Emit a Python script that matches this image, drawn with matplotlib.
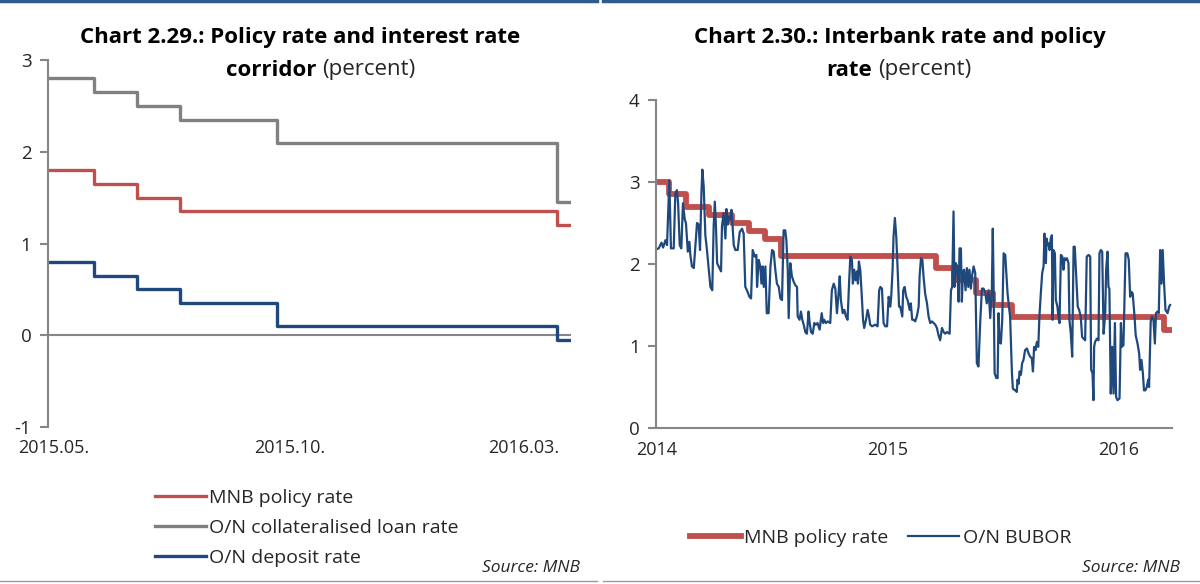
import matplotlib
matplotlib.use("Agg")
import matplotlib.pyplot as plt
from matplotlib.lines import Line2D
import numpy as np

plt.rcParams['font.family'] = ['Open Sans', 'DejaVu Sans']
plt.rcParams['axes.unicode_minus'] = False

RED = '#c0504d'
GREY = '#808080'
BLUE = '#1f497d'
AXIS = '#868686'
TXT = '#262626'

# Chart 2.29 - policy rate and the interest rate corridor
corr_dates = np.array(['2015-04-27', '2015-05-27', '2015-06-24', '2015-07-22',
                       '2015-09-23', '2016-03-23', '2016-04-01'], dtype='datetime64[D]')
policy_rate = [1.80, 1.65, 1.50, 1.35, 1.35, 1.20, 1.20]
loan_rate = [2.80, 2.65, 2.50, 2.35, 2.10, 1.45, 1.45]
deposit_rate = [0.80, 0.65, 0.50, 0.35, 0.10, -0.05, -0.05]
corr_ticks = np.array(['2015-05-01', '2015-10-01', '2016-03-01'], dtype='datetime64[D]')
corr_ticklabels = ['2015.05.', '2015.10.', '2016.03.']

# Chart 2.30 - policy rate and O/N BUBOR (time in decimal years)
mnb_t = [2014.000, 2014.056, 2014.130, 2014.227, 2014.328, 2014.400, 2014.472,
         2014.541, 2015.212, 2015.287, 2015.385, 2015.460, 2015.540, 2016.199, 2016.232]
mnb_rate = [3.00, 2.85, 2.70, 2.60, 2.50, 2.40, 2.30,
            2.10, 1.95, 1.80, 1.65, 1.50, 1.35, 1.20, 1.20]

bubor_t = [
    2014.000, 2014.010, 2014.022, 2014.029, 2014.039, 2014.046, 2014.056, 2014.063,
    2014.075, 2014.082, 2014.089, 2014.094, 2014.101, 2014.108, 2014.115, 2014.123,
    2014.128, 2014.136, 2014.143, 2014.147, 2014.154, 2014.162, 2014.169, 2014.176,
    2014.183, 2014.189, 2014.195, 2014.199, 2014.205, 2014.212, 2014.219, 2014.227,
    2014.234, 2014.242, 2014.248, 2014.253, 2014.258, 2014.263, 2014.270, 2014.280,
    2014.284, 2014.291, 2014.299, 2014.303, 2014.309, 2014.315, 2014.320, 2014.325,
    2014.330, 2014.335, 2014.342, 2014.352, 2014.361, 2014.371, 2014.378, 2014.385,
    2014.392, 2014.403, 2014.410, 2014.417, 2014.426, 2014.433, 2014.436, 2014.443,
    2014.450, 2014.455, 2014.460, 2014.465, 2014.472, 2014.478, 2014.486, 2014.494,
    2014.501, 2014.508, 2014.515, 2014.522, 2014.530, 2014.537, 2014.544, 2014.551,
    2014.558, 2014.563, 2014.569, 2014.573, 2014.580, 2014.587, 2014.595, 2014.602,
    2014.609, 2014.612, 2014.620, 2014.626, 2014.632, 2014.638, 2014.645, 2014.652,
    2014.659, 2014.664, 2014.670, 2014.677, 2014.684, 2014.691, 2014.698, 2014.707,
    2014.716, 2014.722, 2014.727, 2014.734, 2014.742, 2014.753, 2014.760, 2014.768,
    2014.775, 2014.782, 2014.789, 2014.794, 2014.799, 2014.807, 2014.814, 2014.821,
    2014.828, 2014.835, 2014.840, 2014.847, 2014.851, 2014.857, 2014.863, 2014.869,
    2014.873, 2014.877, 2014.883, 2014.889, 2014.895, 2014.900, 2014.908, 2014.915,
    2014.921, 2014.926, 2014.934, 2014.948, 2014.958, 2014.965, 2014.970, 2014.977,
    2014.984, 2014.991, 2014.999, 2015.006, 2015.013, 2015.017, 2015.023, 2015.027,
    2015.033, 2015.039, 2015.045, 2015.051, 2015.056, 2015.065, 2015.069, 2015.075,
    2015.082, 2015.088, 2015.097, 2015.102, 2015.108, 2015.114, 2015.121, 2015.128,
    2015.136, 2015.140, 2015.146, 2015.152, 2015.157, 2015.164, 2015.172, 2015.179,
    2015.186, 2015.193, 2015.201, 2015.208, 2015.215, 2015.222, 2015.229, 2015.237,
    2015.244, 2015.251, 2015.258, 2015.270, 2015.276, 2015.281, 2015.287, 2015.291,
    2015.297, 2015.303, 2015.309, 2015.313, 2015.319, 2015.323, 2015.328, 2015.333,
    2015.339, 2015.345, 2015.351, 2015.356, 2015.362, 2015.368, 2015.374, 2015.381,
    2015.388, 2015.395, 2015.403, 2015.410, 2015.417, 2015.424, 2015.431, 2015.439,
    2015.446, 2015.453, 2015.457, 2015.460, 2015.465, 2015.472, 2015.478, 2015.482,
    2015.486, 2015.492, 2015.498, 2015.504, 2015.511, 2015.515, 2015.521, 2015.527,
    2015.532, 2015.540, 2015.544, 2015.554, 2015.561, 2015.564, 2015.569, 2015.573,
    2015.579, 2015.584, 2015.590, 2015.597, 2015.605, 2015.612, 2015.619, 2015.626,
    2015.631, 2015.636, 2015.642, 2015.648, 2015.654, 2015.659, 2015.665, 2015.671,
    2015.677, 2015.681, 2015.687, 2015.690, 2015.694, 2015.698, 2015.703, 2015.708,
    2015.713, 2015.716, 2015.720, 2015.726, 2015.730, 2015.737, 2015.742, 2015.746,
    2015.752, 2015.758, 2015.763, 2015.768, 2015.773, 2015.778, 2015.785, 2015.789,
    2015.795, 2015.801, 2015.807, 2015.812, 2015.818, 2015.825, 2015.831, 2015.838,
    2015.844, 2015.850, 2015.857, 2015.864, 2015.872, 2015.879, 2015.883, 2015.889,
    2015.893, 2015.896, 2015.900, 2015.908, 2015.915, 2015.919, 2015.925, 2015.931,
    2015.937, 2015.944, 2015.948, 2015.954, 2015.958, 2015.962, 2015.968, 2015.974,
    2015.980, 2015.986, 2015.991, 2015.997, 2016.006, 2016.012, 2016.016, 2016.023,
    2016.032, 2016.040, 2016.046, 2016.052, 2016.058, 2016.063, 2016.071, 2016.076,
    2016.084, 2016.091, 2016.095, 2016.101, 2016.107, 2016.112, 2016.118, 2016.124,
    2016.130, 2016.134, 2016.141, 2016.147, 2016.153, 2016.159, 2016.164, 2016.170,
    2016.176, 2016.182, 2016.188, 2016.193, 2016.199, 2016.205, 2016.214, 2016.221,
    2016.225,
]
bubor_rate = [
    2.18, 2.19, 2.26, 2.20, 2.29, 2.23, 3.02, 2.19,
    2.19, 2.86, 2.90, 2.74, 2.23, 2.19, 2.74, 2.54,
    2.50, 2.15, 2.27, 2.11, 1.97, 1.95, 2.23, 2.50,
    2.48, 2.17, 2.86, 3.15, 2.94, 2.35, 2.17, 1.93,
    1.72, 1.68, 2.46, 2.76, 2.46, 2.01, 1.97, 1.91,
    2.46, 2.62, 2.31, 2.67, 2.48, 2.58, 2.54, 2.66,
    2.46, 2.23, 2.17, 2.17, 2.39, 2.43, 2.37, 1.72,
    1.68, 1.60, 1.58, 2.17, 2.09, 2.11, 1.72, 2.05,
    1.97, 1.76, 1.97, 1.72, 1.97, 1.40, 1.40, 1.97,
    2.17, 2.15, 1.93, 1.76, 1.72, 1.58, 1.56, 2.41,
    2.41, 2.29, 1.93, 1.34, 2.01, 1.85, 1.78, 1.74,
    1.72, 1.36, 1.32, 1.42, 1.32, 1.26, 1.17, 1.15,
    1.42, 1.28, 1.17, 1.15, 1.28, 1.26, 1.28, 1.20,
    1.40, 1.28, 1.32, 1.28, 1.30, 1.28, 1.68, 1.76,
    1.70, 1.40, 1.64, 1.85, 1.56, 1.40, 1.44, 1.36,
    1.32, 1.80, 2.09, 2.05, 1.76, 1.93, 1.80, 1.91,
    1.76, 2.03, 1.93, 1.64, 1.32, 1.22, 1.32, 1.44,
    1.36, 1.26, 1.24, 1.26, 1.24, 1.68, 1.72, 1.70,
    1.28, 1.24, 1.24, 1.60, 1.48, 1.60, 1.93, 2.33,
    2.56, 2.33, 1.93, 1.48, 1.48, 1.36, 1.68, 1.72,
    1.60, 1.56, 1.44, 1.52, 1.32, 1.32, 1.30, 1.36,
    1.48, 1.85, 2.07, 2.05, 1.85, 1.64, 1.52, 1.36,
    1.28, 1.30, 1.28, 1.26, 1.22, 1.13, 1.07, 1.22,
    1.17, 1.15, 1.17, 1.15, 1.68, 1.72, 2.64, 1.72,
    2.01, 1.97, 1.54, 2.19, 2.19, 1.54, 1.91, 1.93,
    1.68, 1.95, 1.72, 1.93, 1.70, 1.87, 1.97, 1.89,
    0.79, 0.75, 1.32, 1.70, 1.70, 1.66, 1.52, 1.68,
    1.34, 1.70, 2.43, 1.85, 0.67, 0.61, 0.61, 1.40,
    1.05, 1.03, 1.32, 2.13, 2.11, 1.93, 1.64, 1.48,
    1.36, 0.67, 0.48, 0.46, 0.44, 0.59, 0.54, 0.69,
    0.65, 0.79, 0.83, 0.95, 0.97, 0.91, 0.87, 0.85,
    0.69, 0.99, 0.95, 1.05, 0.99, 1.36, 1.64, 1.89,
    1.97, 2.37, 2.01, 2.31, 2.23, 2.25, 2.17, 2.31,
    2.35, 1.32, 2.17, 2.13, 1.56, 1.48, 1.34, 1.28,
    2.11, 2.09, 1.93, 2.07, 2.05, 2.07, 2.01, 1.32,
    1.15, 0.87, 2.21, 2.21, 1.87, 1.48, 1.44, 1.36,
    1.11, 1.09, 1.07, 2.09, 2.11, 2.09, 0.71, 0.67,
    0.34, 0.99, 1.05, 1.09, 1.07, 2.13, 2.17, 2.15,
    1.15, 1.40, 1.93, 2.15, 1.72, 1.70, 0.42, 0.99,
    0.42, 1.28, 0.38, 0.34, 0.36, 1.28, 0.99, 1.01,
    2.13, 2.13, 2.05, 1.60, 1.66, 1.64, 1.36, 1.13,
    1.03, 0.91, 0.71, 0.83, 0.67, 0.46, 0.46, 0.50,
    0.59, 0.50, 1.30, 1.36, 1.32, 1.03, 1.40, 1.42,
    1.40, 2.17, 1.76, 2.17, 1.76, 1.44, 1.40, 1.48,
    1.50,
]

fig = plt.figure(figsize=(12, 5.84), dpi=100)


def style_axis(ax):
    for side in ('top', 'right', 'bottom'):
        ax.spines[side].set_visible(False)
    ax.spines['left'].set_color(AXIS)
    ax.spines['left'].set_linewidth(1.5)
    ax.tick_params(axis='y', direction='out', length=6, width=1.5, color=AXIS,
                   labelsize=13.5, labelcolor=TXT, pad=6)
    ax.tick_params(axis='x', length=0, labelsize=13, labelcolor=TXT, pad=9)


# ---- left panel ----
ax1 = fig.add_axes([0.040, 0.269, 0.436, 0.628])
ax1.step(corr_dates, policy_rate, where='post', color=RED, lw=2.4, label='MNB policy rate')
ax1.step(corr_dates, loan_rate, where='post', color=GREY, lw=2.4,
         label='O/N collateralised loan rate')
ax1.step(corr_dates, deposit_rate, where='post', color=BLUE, lw=2.4, label='O/N deposit rate')
ax1.axhline(0, color=AXIS, lw=1.5, zorder=0)
ax1.set_ylim(-1, 3)
ax1.set_yticks([-1, 0, 1, 2, 3])
ax1.set_xlim(corr_dates[0], corr_dates[-1])
ax1.set_xticks(corr_ticks)
ax1.set_xticklabels(corr_ticklabels)
style_axis(ax1)
ax1.legend(loc='upper left', bbox_to_anchor=(155 / 1200, 1 - 489 / 584),
           bbox_transform=fig.transFigure, frameon=False, fontsize=14,
           handlelength=2.6, handletextpad=0.2, labelspacing=0.62,
           borderpad=0, borderaxespad=0, labelcolor=TXT)

# ---- right panel ----
ax2 = fig.add_axes([0.547, 0.267, 0.430, 0.562])
ax2.step(mnb_t, mnb_rate, where='post', color=RED, lw=4.2, label='MNB policy rate')
ax2.plot(bubor_t, bubor_rate, color=BLUE, lw=1.6, label='O/N BUBOR')
ax2.set_ylim(0, 4)
ax2.set_yticks([0, 1, 2, 3, 4])
ax2.set_xlim(2014, 2016.235)
ax2.set_xticks([2014, 2015, 2016])
ax2.set_xticklabels(['2014', '2015', '2016'])
style_axis(ax2)
ax2.spines['bottom'].set_visible(True)
ax2.spines['bottom'].set_color(AXIS)
ax2.spines['bottom'].set_linewidth(1.5)
ax2.legend(loc='upper left', bbox_to_anchor=(690 / 1200, 1 - 529 / 584),
           bbox_transform=fig.transFigure, frameon=False, fontsize=14, ncol=2,
           handlelength=2.6, handletextpad=0.2, columnspacing=1.0,
           borderpad=0, borderaxespad=0, labelcolor=TXT)

# ---- titles ----
TSIZE = 16
fig.text(300 / 1200, 1 - 37 / 584, 'Chart 2.29.: Policy rate and interest rate',
         ha='center', va='center', fontsize=TSIZE, fontweight='bold', color='black')
fig.text(316 / 1200, 1 - 70 / 584, 'corridor', ha='right', va='center',
         fontsize=TSIZE, fontweight='bold', color='black')
fig.text(322 / 1200, 1 - 70 / 584, '(percent)', ha='left', va='center',
         fontsize=TSIZE, color=TXT)

fig.text(900 / 1200, 1 - 37 / 584, 'Chart 2.30.: Interbank rate and policy',
         ha='center', va='center', fontsize=TSIZE, fontweight='bold', color='black')
fig.text(872 / 1200, 1 - 70 / 584, 'rate', ha='right', va='center',
         fontsize=TSIZE, fontweight='bold', color='black')
fig.text(878 / 1200, 1 - 70 / 584, '(percent)', ha='left', va='center',
         fontsize=TSIZE, color=TXT)

# source notes
fig.text(580 / 1200, 1 - 568 / 584, 'Source: MNB', ha='right', va='center',
         fontsize=12.5, style='italic', color=TXT)
fig.text(1180 / 1200, 1 - 568 / 584, 'Source: MNB', ha='right', va='center',
         fontsize=12.5, style='italic', color=TXT)

# frame lines above and below each panel
for x0, x1 in ((0.0, 0.4975), (0.5025, 1.0)):
    fig.add_artist(Line2D([x0, x1], [0.9975, 0.9975], color='#2f5b8c', lw=2.5))
    fig.add_artist(Line2D([x0, x1], [1 - 581 / 584, 1 - 581 / 584],
                          color='#8a9bb3', lw=1.0))

fig.savefig('out.png', dpi=100)
